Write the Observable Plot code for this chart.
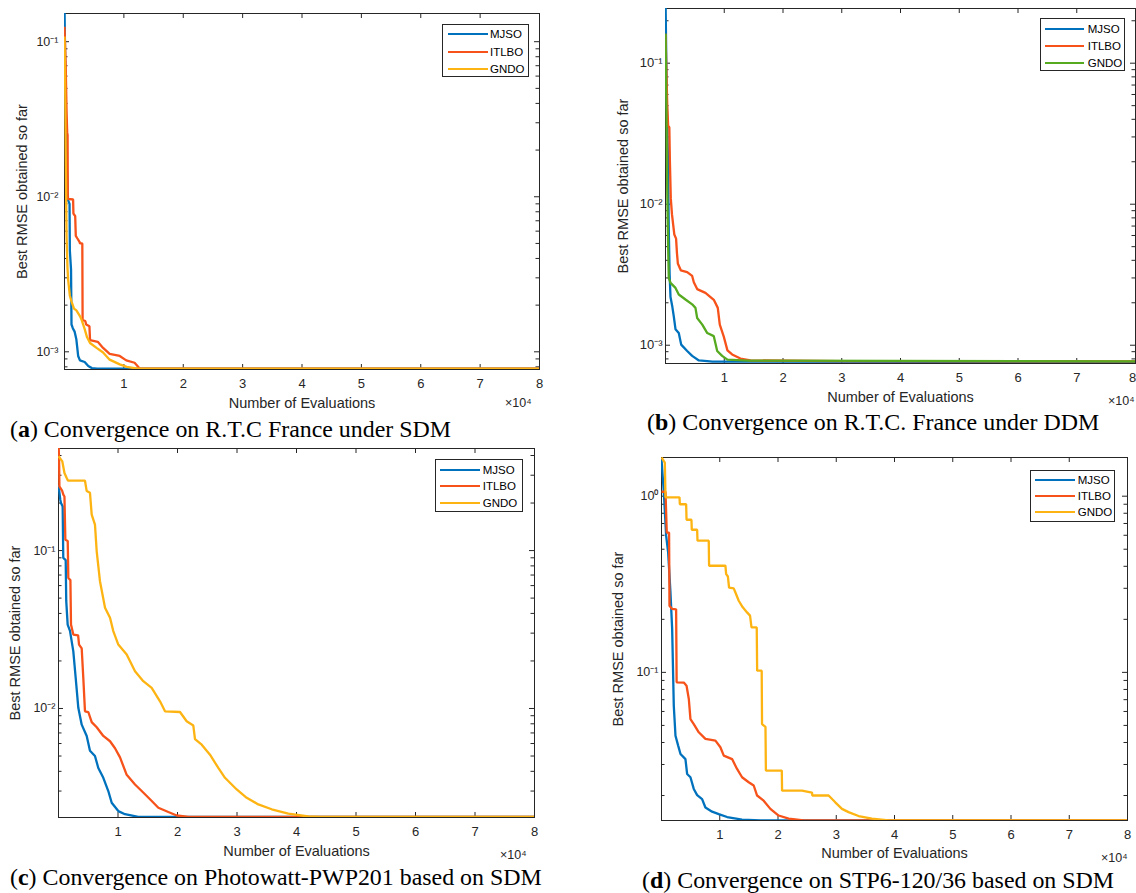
<!DOCTYPE html>
<html>
<head>
<meta charset="utf-8">
<script src="https://cdn.jsdelivr.net/npm/d3@7"></script>
<script src="https://cdn.jsdelivr.net/npm/@observablehq/plot@0.6"></script>
<style>
html,body{margin:0;padding:0;background:#fff;}
#fig{position:relative;width:1136px;height:893px;overflow:hidden;font-family:"Liberation Sans",Arial,Helvetica,sans-serif;}
.panel{position:absolute;}
.panel svg{overflow:visible;}
.cap{position:absolute;font-family:"Liberation Serif","Times New Roman",serif;font-size:23.9px;line-height:24px;color:#000;white-space:nowrap;}
.legend{position:absolute;background:#fff;border:1px solid #262626;box-sizing:border-box;}
.legend .ln{position:absolute;height:2.2px;}
.legend .tx{position:absolute;font-size:11.5px;line-height:14px;color:#000;font-family:"Liberation Sans",Arial,sans-serif;}
</style>
</head>
<body>
<div id="fig"></div>
<script>
// ---------- shared data ----------
const methods = ["MJSO", "ITLBO", "GNDO"];
const colorsSDM = ["#0072BD", "#F6521A", "#FDB412"];
const colorsDDM = ["#0072BD", "#F6521A", "#56AA1F"];
const xTickValues = [10000, 20000, 30000, 40000, 50000, 60000, 70000, 80000];
const xTickLabels = ["1", "2", "3", "4", "5", "6", "7", "8"];
const xLabel = "Number of Evaluations";
const yLabel = "Best RMSE obtained so far";
const xExponent = "×10⁴";

// ---------- (a) R.T.C France, SDM ----------
const a_MJSO = [[0,0.17],[200,0.04],[400,0.015],[600,0.0095],[850,0.009],[900,0.0045],[1100,0.0034],[1180,0.0015],[1400,0.00142],[1700,0.00135],[2000,0.0012],[2300,0.00094],[2600,0.00088],[3400,0.00086],[4000,0.00081],[4600,0.000785],[5500,0.000778],[80000,0.000778]];
const a_ITLBO = [[0,0.125],[200,0.07],[350,0.035],[450,0.026],[520,0.025],[560,0.0097],[1450,0.0096],[1500,0.0078],[1800,0.0075],[1900,0.0056],[2150,0.0054],[2550,0.0051],[2600,0.005],[3000,0.005],[3050,0.0016],[3500,0.00158],[3650,0.0015],[4200,0.00146],[4300,0.00119],[5600,0.00116],[6500,0.00106],[7600,0.00097],[9300,0.00094],[10400,0.00088],[11800,0.00085],[12700,0.000778],[80000,0.000778]];
const a_GNDO = [[0,0.108],[100,0.06],[200,0.02],[300,0.008],[350,0.0055],[500,0.0035],[620,0.0029],[900,0.0023],[1200,0.0021],[1600,0.0019],[2000,0.00185],[2600,0.0017],[2900,0.0016],[3400,0.0014],[3800,0.00124],[4300,0.00114],[5400,0.00106],[6500,0.00099],[7600,0.00089],[9300,0.00083],[10500,0.0008],[12300,0.000778],[80000,0.000778]];
const a_yDomain = [7.69e-4, 0.152];
const a_yTicks = [1e-3, 1e-2, 1e-1];
const a_yLabels = ["10⁻³", "10⁻²", "10⁻¹"];

// ---------- (b) R.T.C. France, DDM ----------
const b_MJSO = [[0,0.3],[200,0.06],[390,0.024],[570,0.0062],[700,0.0032],[850,0.0022],[1140,0.0019],[1410,0.0016],[1700,0.0013],[2260,0.00122],[2670,0.00101],[3690,0.00091],[4540,0.00084],[5680,0.00078],[8000,0.000765],[80000,0.00076]];
const b_ITLBO = [[0,0.162],[150,0.09],[300,0.05],[450,0.036],[650,0.035],[750,0.02],[900,0.011],[1100,0.0085],[1300,0.0072],[1500,0.0061],[1800,0.0057],[1950,0.0045],[2100,0.0038],[2600,0.0034],[3690,0.0033],[4540,0.0031],[4820,0.0028],[5390,0.0025],[6800,0.00235],[8220,0.0021],[8900,0.00184],[9240,0.0014],[9920,0.00115],[10540,0.00092],[11340,0.00086],[12760,0.000805],[14450,0.00078],[30000,0.000772],[80000,0.000768]];
const b_GNDO = [[0,0.162],[150,0.05],[300,0.012],[450,0.005],[560,0.003],[850,0.00277],[1700,0.00255],[2260,0.00229],[3400,0.00211],[4540,0.00195],[5100,0.00184],[5390,0.00156],[6260,0.0014],[7110,0.00122],[8220,0.00116],[8800,0.00091],[9640,0.00084],[10540,0.00079],[14000,0.000778],[80000,0.000768]];
const b_yDomain = [7.42e-4, 0.2443];
const b_yTicks = [1e-3, 1e-2, 1e-1];
const b_yLabels = ["10⁻³", "10⁻²", "10⁻¹"];

// ---------- (c) Photowatt-PWP201, SDM ----------
const c_MJSO = [[0,0.26],[300,0.21],[420,0.2],[700,0.19],[800,0.09],[1210,0.087],[1300,0.048],[1540,0.034],[1930,0.031],[2490,0.023],[2890,0.0156],[3330,0.0101],[3900,0.0079],[4740,0.0067],[5290,0.0054],[6130,0.005],[6690,0.0042],[7530,0.00364],[8370,0.003],[8940,0.00253],[10050,0.00224],[11180,0.00214],[13400,0.00206],[80000,0.00206]];
const c_ITLBO = [[0,0.5],[100,0.367],[150,0.255],[600,0.24],[810,0.226],[1000,0.22],[1150,0.117],[1550,0.115],[1650,0.067],[2000,0.065],[2100,0.034],[2490,0.0294],[3300,0.029],[3450,0.0254],[3900,0.024],[4170,0.0156],[4450,0.0096],[5010,0.0095],[5580,0.0082],[6420,0.0076],[7530,0.0067],[8660,0.0062],[9500,0.0056],[10340,0.0049],[11460,0.0038],[12860,0.0033],[13980,0.003],[15380,0.00266],[16780,0.00235],[18460,0.00221],[19870,0.0021],[21820,0.00206],[80000,0.00206]];
const c_GNDO = [[0,0.396],[640,0.367],[1000,0.31],[1380,0.288],[1600,0.277],[4450,0.277],[4740,0.238],[5290,0.232],[5580,0.169],[6130,0.146],[6420,0.099],[6970,0.064],[7820,0.0434],[8660,0.0375],[9210,0.0309],[10050,0.0254],[11460,0.022],[12860,0.0172],[14250,0.0149],[15660,0.0135],[17060,0.0111],[17900,0.0096],[20420,0.0095],[21540,0.0083],[22660,0.0078],[22940,0.0064],[24070,0.0059],[25460,0.0051],[26860,0.0042],[27980,0.00364],[29950,0.00307],[31630,0.00272],[33580,0.00247],[35830,0.0023],[38620,0.00216],[41980,0.00207],[44000,0.00206],[80000,0.00206]];
const c_yDomain = [2.04e-3, 0.443];
const c_yTicks = [1e-2, 1e-1];
const c_yLabels = ["10⁻²", "10⁻¹"];

// ---------- (d) STP6-120/36, SDM ----------
const d_MJSO = [[0,1.62],[400,1.05],[800,0.595],[1140,0.48],[1540,0.284],[1830,0.176],[2110,0.0647],[2400,0.0437],[2860,0.0384],[3260,0.0344],[4110,0.0322],[4400,0.0265],[4970,0.0254],[5540,0.0218],[6120,0.0201],[6970,0.0191],[7540,0.0171],[8690,0.0162],[9830,0.0157],[11260,0.0151],[13830,0.0146],[17000,0.01447],[80000,0.01447]];
const d_ITLBO = [[0,1.06],[690,1.06],[900,0.622],[1300,0.62],[1370,0.239],[1830,0.229],[2510,0.228],[2600,0.0878],[3830,0.0875],[4300,0.084],[4690,0.0706],[4970,0.0543],[5540,0.0509],[6400,0.0457],[7540,0.0419],[9260,0.041],[10110,0.0376],[10690,0.0337],[12120,0.0322],[12970,0.0283],[13830,0.0254],[14970,0.0238],[15830,0.0228],[16410,0.02],[17540,0.0187],[18690,0.0168],[20110,0.0154],[21830,0.0148],[24400,0.01447],[80000,0.01447]];
const d_GNDO = [[0,1.66],[570,1.55],[690,0.985],[3090,0.985],[3150,0.9],[4230,0.9],[4300,0.735],[5140,0.735],[5200,0.645],[6120,0.645],[6180,0.559],[8110,0.559],[8170,0.403],[10970,0.403],[11100,0.361],[11400,0.35],[11600,0.303],[12400,0.3],[12690,0.284],[13260,0.255],[13950,0.234],[14690,0.219],[15200,0.21],[15450,0.18],[16350,0.18],[16420,0.1023],[17200,0.1023],[17260,0.0509],[17850,0.049],[17920,0.0277],[20650,0.0277],[20700,0.0213],[24120,0.0213],[25830,0.0208],[25900,0.02],[28690,0.02],[29830,0.0183],[30980,0.0168],[32110,0.0161],[33830,0.0153],[36120,0.0148],[39000,0.01447],[80000,0.01447]];
const d_yDomain = [0.01443, 1.658];
const d_yTicks = [1e-1, 1e0];
const d_yLabels = ["10⁻¹", "10⁰"];

// ---------- captions ----------
const captions = [
  ["a", "Convergence on R.T.C France under SDM"],
  ["b", "Convergence on R.T.C. France under DDM"],
  ["c", "Convergence on Photowatt-PWP201 based on SDM"],
  ["d", "Convergence on STP6-120/36 based on SDM"]
];

// ---------- layout ----------
const panels = [
  {series: [a_MJSO, a_ITLBO, a_GNDO], colors: colorsSDM, yDomain: a_yDomain, yTicks: a_yTicks, yLabels: a_yLabels,
   left: 0, top: 0, w: 560, h: 420, ml: 64, mr: 21, mt: 13, mb: 51, ypad: 6, yfs: 12.5, ylabDx: -42, xlabDy: 34, expDx: -8, expDy: 33, lastDx: 0,
   legend: {x: 442, y: 24, w: 87, h: 53, rows: [9.3, 26.7, 44.3], lx: 5, lw: 40, tx: 47},
   cap: {left: 10, top: 417}},
  {series: [b_MJSO, b_ITLBO, b_GNDO], colors: colorsDDM, yDomain: b_yDomain, yTicks: b_yTicks, yLabels: b_yLabels,
   left: 580, top: 0, w: 556, h: 420, ml: 85, mr: 1, mt: 8, mb: 57, ypad: 3, yfs: 13, ylabDx: -42, xlabDy: 34, expDx: -1, expDy: 37, lastDx: -3,
   legend: {x: 1040, y: 18, w: 85, h: 53, rows: [10.3, 27, 43.7], lx: 4, lw: 39, tx: 46.7},
   cap: {left: 647, top: 410}},
  {series: [c_MJSO, c_ITLBO, c_GNDO], colors: colorsSDM, yDomain: c_yDomain, yTicks: c_yTicks, yLabels: c_yLabels,
   left: 0, top: 440, w: 560, h: 453, ml: 58, mr: 26, mt: 8, mb: 76, ypad: 3, yfs: 12.5, ylabDx: -43, xlabDy: 34, expDx: -8, expDy: 37, lastDx: 0,
   legend: {x: 435, y: 459, w: 88, h: 53, rows: [10.3, 26.3, 43.3], lx: 4.3, lw: 40, tx: 46.7},
   cap: {left: 10, top: 865}},
  {series: [d_MJSO, d_ITLBO, d_GNDO], colors: colorsSDM, yDomain: d_yDomain, yTicks: d_yTicks, yLabels: d_yLabels,
   left: 580, top: 440, w: 556, h: 453, ml: 81, mr: 9, mt: 17, mb: 73, ypad: 3, yfs: 12.5, ylabDx: -43, xlabDy: 33, expDx: 0, expDy: 37, lastDx: 0,
   legend: {x: 1030, y: 470, w: 85, h: 52, rows: [9.3, 25.3, 41.3], lx: 4.3, lw: 40, tx: 46.7},
   cap: {left: 642, top: 868}}
];

const ink = "#262626";
const fig = document.getElementById("fig");

function minorTicks(dom) {
  const out = [];
  const lo = Math.floor(Math.log10(dom[0])), hi = Math.ceil(Math.log10(dom[1]));
  for (let e = lo; e < hi; e++) for (let k = 2; k <= 9; k++) {
    const v = k * Math.pow(10, e);
    if (v >= dom[0] && v <= dom[1]) out.push(v);
  }
  return out;
}

function makePanel(c) {
  const rows = [];
  c.series.forEach((s, i) => s.forEach(([x, y]) => rows.push({method: methods[i], x, y})));
  const minors = minorTicks(c.yDomain);
  const yfmt = d => c.yLabels[c.yTicks.indexOf(d)];
  const xfmt = d => xTickLabels[xTickValues.indexOf(d)];
  const fw = c.w - c.ml - c.mr, fh = c.h - c.mt - c.mb;
  const major = 5, minor = 3.5;
  const tk = {stroke: ink, strokeWidth: 1};
  return Plot.plot({
    width: c.w, height: c.h,
    marginLeft: c.ml, marginRight: c.mr, marginTop: c.mt, marginBottom: c.mb,
    style: {background: "transparent", fontFamily: '"Liberation Sans", Arial, Helvetica, sans-serif', color: ink, overflow: "visible"},
    x: {domain: [0, 80000]},
    y: {type: "log", domain: c.yDomain},
    color: {domain: methods, range: c.colors},
    marks: [
      // inward tick marks on all four sides of the box
      Plot.tickX(xTickValues, {x: d => d, ...tk, insetTop: fh - major}),
      Plot.tickX(xTickValues, {x: d => d, ...tk, insetBottom: fh - major}),
      Plot.tickY(c.yTicks, {y: d => d, ...tk, insetRight: fw - major}),
      Plot.tickY(minors, {y: d => d, ...tk, insetRight: fw - minor}),
      Plot.tickY(c.yTicks, {y: d => d, ...tk, insetLeft: fw - major}),
      Plot.tickY(minors, {y: d => d, ...tk, insetLeft: fw - minor}),
      // tick labels
      Plot.axisX({anchor: "bottom", ticks: xTickValues.slice(0, -1), tickSize: 0, tickPadding: 9, tickFormat: xfmt, fill: ink, fontSize: 13, label: null}),
      Plot.axisX({anchor: "bottom", ticks: xTickValues.slice(-1), tickSize: 0, tickPadding: 9, tickFormat: xfmt, fill: ink, fontSize: 13, dx: c.lastDx, label: null}),
      Plot.axisY({anchor: "left", ticks: c.yTicks, tickSize: 0, tickPadding: c.ypad, tickFormat: yfmt, fill: ink, fontSize: c.yfs, label: null}),
      Plot.frame({stroke: ink, strokeWidth: 1}),
      Plot.line(rows, {x: "x", y: "y", z: "method", stroke: "method", strokeWidth: 2.3, clip: true, strokeLinejoin: "miter", strokeLinecap: "butt"}),
      // axis titles
      Plot.text([yLabel], {text: d => d, frameAnchor: "left", rotate: -90, dx: c.ylabDx, textAnchor: "middle", lineAnchor: "middle", fontSize: 14.5, fill: ink}),
      Plot.text([xLabel], {text: d => d, frameAnchor: "bottom", dy: c.xlabDy, textAnchor: "middle", lineAnchor: "middle", fontSize: 14.5, fill: ink}),
      Plot.text([xExponent], {text: d => d, frameAnchor: "bottom-right", dx: c.expDx, dy: c.expDy, textAnchor: "end", lineAnchor: "middle", fontSize: 12.5, fill: ink})
    ]
  });
}

panels.forEach((c, i) => {
  const holder = document.createElement("div");
  holder.className = "panel";
  holder.style.left = c.left + "px";
  holder.style.top = c.top + "px";
  holder.style.width = c.w + "px";
  holder.style.height = c.h + "px";
  holder.append(makePanel(c));
  fig.append(holder);

  // legend box
  const L = c.legend;
  const lg = document.createElement("div");
  lg.className = "legend";
  Object.assign(lg.style, {left: L.x + "px", top: L.y + "px", width: L.w + "px", height: L.h + "px"});
  methods.forEach((m, j) => {
    const ln = document.createElement("div");
    ln.className = "ln";
    Object.assign(ln.style, {left: L.lx + "px", width: L.lw + "px", top: (L.rows[j] - 1.1) + "px", background: c.colors[j]});
    const tx = document.createElement("div");
    tx.className = "tx";
    tx.textContent = m;
    Object.assign(tx.style, {left: L.tx + "px", top: (L.rows[j] - 7) + "px"});
    lg.append(ln, tx);
  });
  fig.append(lg);

  // caption
  const cap = document.createElement("div");
  cap.className = "cap";
  cap.style.left = c.cap.left + "px";
  cap.style.top = c.cap.top + "px";
  cap.innerHTML = "(<b>" + captions[i][0] + "</b>) " + captions[i][1];
  fig.append(cap);
});
</script>
</body>
</html>
